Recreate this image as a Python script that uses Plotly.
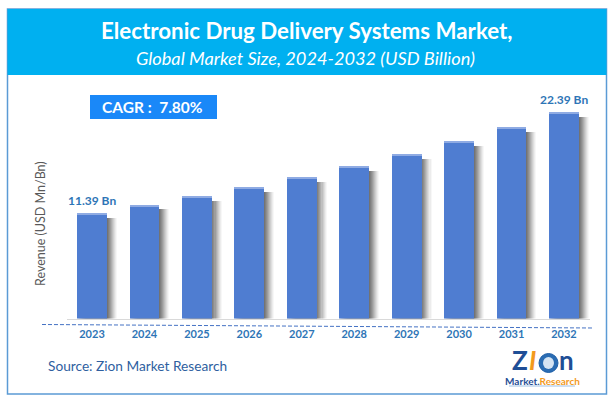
import plotly.graph_objects as go

years = [2023, 2024, 2025, 2026, 2027, 2028, 2029, 2030, 2031, 2032]
revenue = [11.39, 12.28, 13.22, 14.21, 15.30, 16.50, 17.81, 19.23, 20.76, 22.39]
first_label = "11.39 Bn"
last_label = "22.39 Bn"
title_main = "Electronic Drug Delivery Systems Market,"
title_sub = "Global Market Size, 2024-2032 (USD Billion)"
cagr_text = "CAGR :  7.80%"
y_title = "Revenue (USD Mn/Bn)"
source_text = "Source: Zion Market Research"

W, H = 614, 403
FONT = "Lato"
BLUE = "#4f7dd1"
TEXT_BLUE = "#2e75b6"
LOGO_BLUE = "#1f4e96"
LOGO_ORANGE = "#f39a1d"


def px(x):
    return x / W


def py(y):
    return 1 - y / H


fig = go.Figure()

# soft grey shadow to the right of each bar
BAR_W = 0.57
steps = [(0.19, 0.04), (0.17, 0.06), (0.15, 0.08), (0.13, 0.09), (0.11, 0.11),
         (0.09, 0.12), (0.07, 0.14), (0.05, 0.15), (0.03, 0.17), (0.012, 0.19)]
for off, alpha in steps:
    fig.add_trace(go.Bar(
        x=years, y=[v - 0.35 for v in revenue], width=BAR_W,
        offset=-BAR_W / 2 + off,
        marker=dict(color=f"rgba(60,60,60,{alpha})", line_width=0),
        hoverinfo="skip", showlegend=False,
    ))

fig.add_trace(go.Bar(
    x=years, y=revenue, width=BAR_W, offset=-BAR_W / 2,
    marker=dict(color=BLUE, line_width=0), showlegend=False,
))
# pale highlight along the top edge of each bar
fig.add_trace(go.Bar(
    x=years, y=[0.09] * len(years), base=revenue, width=BAR_W, offset=-BAR_W / 2,
    marker=dict(color="#8fabe3", line_width=0), hoverinfo="skip", showlegend=False,
))

shapes = [
    dict(type="rect", xref="paper", yref="paper", x0=px(7.5), x1=px(606.5), y0=py(394), y1=py(9),
         line=dict(color="#5b9bd5", width=1.5), fillcolor="white", layer="below"),
    dict(type="rect", xref="paper", yref="paper", x0=px(7.5), x1=px(606.5), y0=py(75), y1=py(9),
         line=dict(width=0), fillcolor="#00b0f0", layer="below"),
    dict(type="rect", xref="paper", yref="paper", x0=px(90), x1=px(217), y0=py(119), y1=py(95),
         line=dict(width=0), fillcolor="#1a88f8", layer="below"),
    dict(type="line", xref="paper", yref="paper", x0=px(42), x1=px(593), y0=py(324.5), y1=py(328),
         line=dict(color="#4472c4", width=1, dash="4px,2px")),
    # logo globe
    dict(type="circle", xref="paper", yref="paper", x0=px(539), x1=px(558), y0=py(372.5), y1=py(353.5),
         line=dict(color="#1f5fa8", width=1), fillcolor="#2a6cb3"),
    dict(type="circle", xref="paper", yref="paper", x0=px(543), x1=px(554), y0=py(369), y1=py(357),
         line=dict(width=0), fillcolor="#d5e4f3"),
    dict(type="line", xref="paper", yref="paper", x0=px(509), x1=px(575), y0=py(386), y1=py(386),
         line=dict(color="#9fc0e3", width=1)),
]


def note(text, x, y, size, color, bold=False, italic=False, anchor="center", angle=0):
    fig.add_annotation(
        xref="paper", yref="paper", x=px(x), y=py(y), text=text, showarrow=False,
        xanchor=anchor, yanchor="middle", textangle=angle,
        font=dict(family=FONT, size=size, color=color,
                  weight="bold" if bold else "normal",
                  style="italic" if italic else "normal"),
    )


note(title_main, 307, 31, 22.3, "white", bold=True)
note(title_sub, 305.5, 58, 18.2, "white", italic=True)
note(cagr_text, 152, 107, 15.5, "white", bold=True)
note(y_title, 40, 224, 12.5, "#595959", angle=-90)
note(source_text, 46, 365, 13.7, "#2f5f9f", anchor="left")

for xv, yv, label in [(years[0], revenue[0], first_label), (years[-1], revenue[-1], last_label)]:
    fig.add_annotation(x=xv, y=yv, xref="x", yref="y", text=label, showarrow=False,
                       yshift=14, font=dict(family=FONT, size=12, color=TEXT_BLUE, weight="bold"))

# logo wordmark
note("Z", 520, 360, 26, LOGO_BLUE, bold=True)
note("I", 532, 360, 26, LOGO_ORANGE, bold=True, italic=True)
note("n", 566, 360, 26, LOGO_BLUE, bold=True)
note(f'<span style="color:{LOGO_BLUE}">Market.</span><span style="color:{LOGO_ORANGE}">Research</span>',
     542, 380.5, 10, LOGO_BLUE, bold=True)

fig.update_layout(
    width=W, height=H, margin=dict(l=0, r=0, t=0, b=0), autosize=False,
    paper_bgcolor="white", plot_bgcolor="rgba(0,0,0,0)", barmode="overlay",
    shapes=shapes, showlegend=False, bargap=0,
    xaxis=dict(domain=[px(67), px(590)], range=[2022.523, 2032.496],
               tickmode="array", tickvals=years, ticktext=[str(y) for y in years],
               showgrid=False, zeroline=False, showline=True, linecolor="#d9d9d9", linewidth=1,
               ticks="outside", ticklen=5, tickcolor="rgba(0,0,0,0)",
               tickfont=dict(family=FONT, size=11, color=TEXT_BLUE, weight="bold")),
    yaxis=dict(domain=[py(318.5), py(98.9)], range=[0, 24], visible=False),
)

fig.write_html("out.html", config={"displayModeBar": False},
               post_script="document.body.style.margin='0';document.body.style.overflow='hidden';")
